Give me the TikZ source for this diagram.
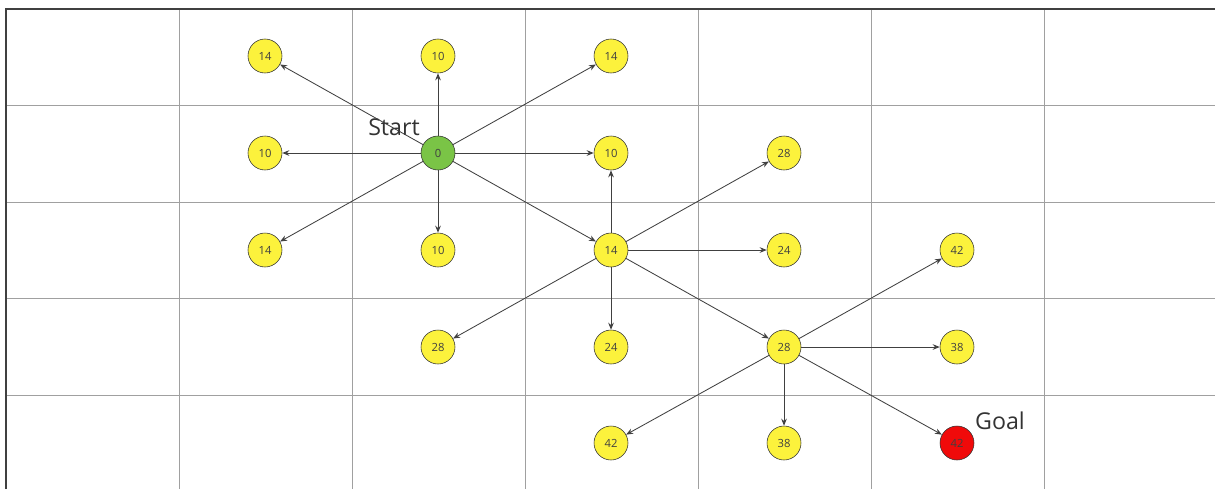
\documentclass[tikz,border=0pt]{standalone}
\usepackage{fontspec}
\setmainfont{Open Sans}
\usetikzlibrary{arrows.meta, positioning}

\definecolor{cellline}{RGB}{160,160,160}
\definecolor{costfill}{RGB}{252,242,60}
\definecolor{startfill}{RGB}{122,196,70}
\definecolor{goalfill}{RGB}{240,10,10}

\tikzset{
  cost/.style={circle, draw=black!80, fill=costfill, minimum size=34*0.025cm, inner sep=0pt, font=\fontsize{8}{8}\selectfont, text=black!75},
  edge/.style={draw=black!75, line width=0.6pt, -{Stealth[length=5pt,width=4pt]}}
}

\begin{document}
\begin{tikzpicture}[x=0.025cm, y=-0.025cm]
  \useasboundingbox (0,0) rectangle (1215,489);

  % Grid
  \foreach \gx in {179,352,525,698,871,1044}
    \draw[cellline, line width=0.6pt] (\gx,9) -- (\gx,489);
  \foreach \gy in {105,202,298,395}
    \draw[cellline, line width=0.6pt] (6,\gy) -- (1215,\gy);
  \draw[black!75, line width=1pt] (6,489) -- (6,9) -- (1215,9);

  % Nodes
  \node[cost, fill=startfill] (start) at (438,153) {0};
  \node[cost] (a1) at (265,56) {14};
  \node[cost] (a2) at (438,56) {10};
  \node[cost] (a3) at (611,56) {14};
  \node[cost] (a4) at (265,153) {10};
  \node[cost] (a5) at (611,153) {10};
  \node[cost] (a6) at (265,250) {14};
  \node[cost] (a7) at (438,250) {10};
  \node[cost] (b0) at (611,250) {14};
  \node[cost] (b1) at (784,153) {28};
  \node[cost] (b2) at (784,250) {24};
  \node[cost] (b3) at (438,347) {28};
  \node[cost] (b4) at (611,347) {24};
  \node[cost] (c0) at (784,347) {28};
  \node[cost] (c1) at (957,250) {42};
  \node[cost] (c2) at (957,347) {38};
  \node[cost] (c3) at (611,443) {42};
  \node[cost] (c4) at (784,443) {38};
  \node[cost, fill=goalfill] (goal) at (957,443) {42};

  \node[font=\fontsize{16.5}{16.5}\selectfont, text=black!80] (startlbl) at (394,127) {Start};
  \node[font=\fontsize{16.5}{16.5}\selectfont, text=black!80] (goallbl) at (1000,421) {Goal};

  % Edges
  \foreach \t in {a1,a2,a3,a4,a5,a6,a7,b0}
    \draw[edge] (start) -- (\t);
  \foreach \t in {a5,b1,b2,b3,b4,c0}
    \draw[edge] (b0) -- (\t);
  \foreach \t in {c1,c2,c3,c4,goal}
    \draw[edge] (c0) -- (\t);
\end{tikzpicture}
\end{document}
